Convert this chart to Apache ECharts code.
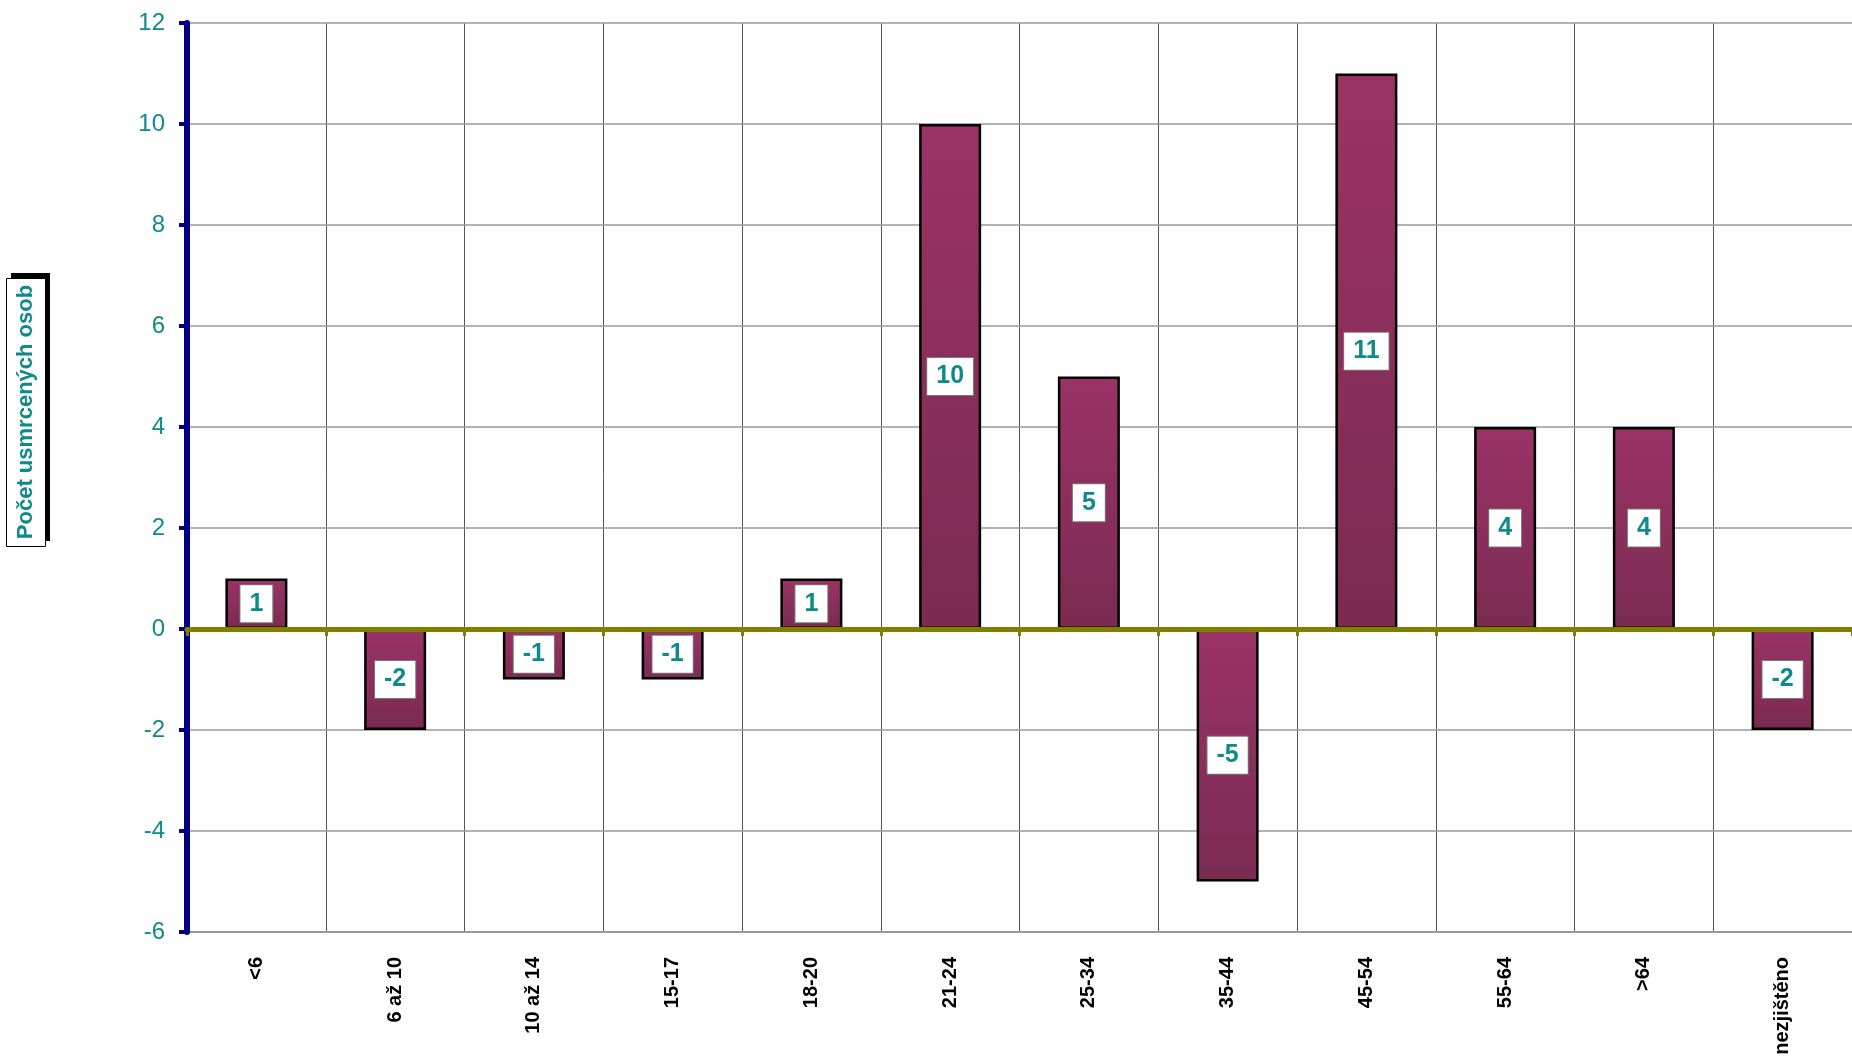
<!DOCTYPE html>
<html>
<head>
<meta charset="utf-8">
<script src="https://cdn.jsdelivr.net/npm/echarts@6/dist/echarts.min.js"></script>
<style>
html,body{margin:0;padding:0;background:#fff;}
#chart{width:1852px;height:1062px;}
</style>
</head>
<body>
<div id="chart"></div>
<script>
const categories = ['<6','6 až 10','10 až 14','15-17','18-20','21-24','25-34','35-44','45-54','55-64','>64','nezjištěno'];
const values = [1,-2,-1,-1,1,10,5,-5,11,4,4,-2];
const yTitle = 'Počet usmrcených osob';
const yMin = -6, yMax = 12, yStep = 2;

const teal = '#0F8A8A';
const font = '"Liberation Sans", Arial, sans-serif';

const chart = echarts.init(document.getElementById('chart'));
chart.setOption({
  animation: false,
  backgroundColor: '#fff',
  grid: {left: 187, right: 0, top: 23, bottom: 130, containLabel: false},
  xAxis: [
    {
      type: 'category', data: categories, boundaryGap: true,
      axisLine: {onZero: true, lineStyle: {color: '#808000', width: 5}},
      axisTick: {show: true, alignWithLabel: false, length: 7, lineStyle: {color: '#808000', width: 3}},
      axisLabel: {show: false},
      splitLine: {show: false},
      z: 10
    },
    {
      type: 'category', data: categories, boundaryGap: true, position: 'bottom',
      axisLine: {onZero: false, lineStyle: {color: '#999', width: 2}},
      axisTick: {show: false},
      axisLabel: {show: true, rotate: 90, margin: 25, color: '#000', fontWeight: 'bold', fontSize: 20, fontFamily: font, interval: 0},
      splitLine: {show: true, lineStyle: {color: '#555', width: 1}},
      z: 1
    }
  ],
  yAxis: {
    type: 'value', min: yMin, max: yMax, interval: yStep,
    axisLine: {show: true, onZero: false, lineStyle: {color: '#000080', width: 6}},
    axisTick: {show: true, length: 8, lineStyle: {color: '#000080', width: 4}},
    axisLabel: {color: teal, fontSize: 24, fontFamily: font, margin: 22},
    splitLine: {show: true, lineStyle: {color: '#999', width: 1.5}},
    z: 2
  },
  graphic: [
    {type: 'rect', left: 11, top: 273, shape: {width: 39, height: 268}, style: {fill: '#000'}},
    {type: 'rect', left: 6, top: 278, shape: {width: 39, height: 268}, style: {fill: '#fff', stroke: '#000', lineWidth: 1}},
    {type: 'text', x: 26, y: 412, rotation: Math.PI / 2,
     style: {text: yTitle, fill: teal, font: 'bold 22px "Liberation Sans", Arial, sans-serif', align: 'center', verticalAlign: 'middle'}}
  ],
  series: [{
    type: 'bar',
    xAxisIndex: 0,
    data: values,
    barWidth: 62,
    itemStyle: {
      color: new echarts.graphic.LinearGradient(0, 0, 0, 1, [
        {offset: 0, color: '#9B3366'},
        {offset: 1, color: '#7A2B52'}
      ]),
      borderColor: '#000', borderWidth: 2.5
    },
    label: {
      show: true, position: 'inside',
      color: teal, fontWeight: 'bold', fontSize: 25, fontFamily: font,
      backgroundColor: '#fff', borderColor: '#777', borderWidth: 1,
      padding: [7, 9, 5, 9]
    },
    z: 3
  }]
});
</script>
</body>
</html>
